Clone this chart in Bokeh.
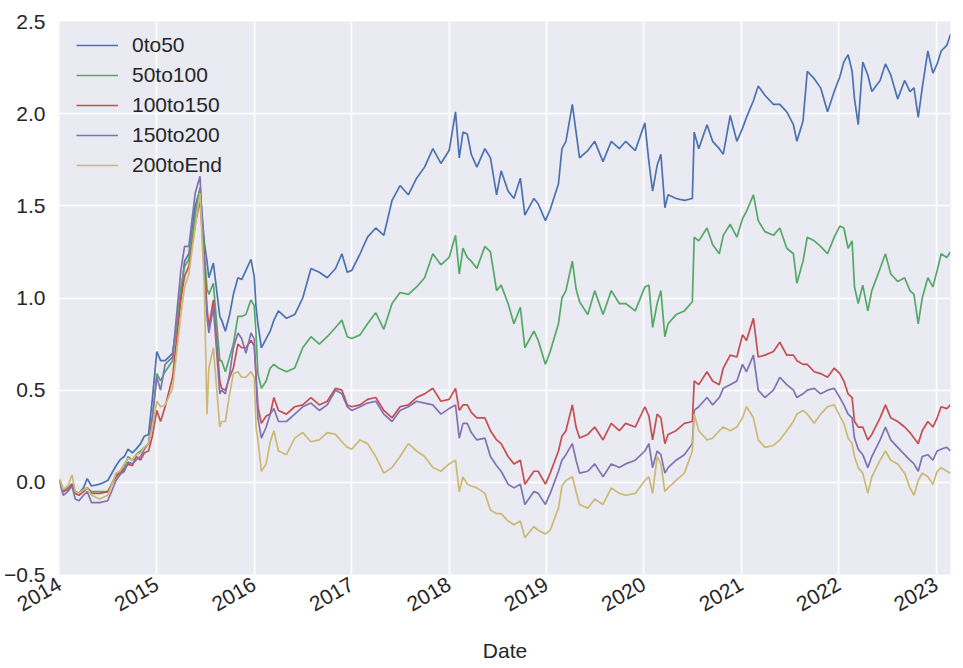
import math
import pandas as pd
from bokeh.plotting import figure
from bokeh.models import Range1d, FixedTicker, DatetimeTickFormatter
from bokeh.embed import file_html
from bokeh.resources import INLINE

dates = [
    "2014-01-02", "2014-01-15", "2014-02-01", "2014-02-17", "2014-03-01", "2014-03-15",
    "2014-04-01", "2014-04-15", "2014-05-01", "2014-06-01", "2014-07-01", "2014-08-01",
    "2014-08-15", "2014-09-01", "2014-09-15", "2014-10-01", "2014-10-15", "2014-11-01",
    "2014-11-15", "2014-12-01", "2014-12-15", "2015-01-01", "2015-01-15", "2015-02-01",
    "2015-03-01", "2015-04-01", "2015-04-15", "2015-05-01", "2015-05-25", "2015-06-12",
    "2015-06-28", "2015-07-08", "2015-07-15", "2015-08-01", "2015-08-25", "2015-09-01",
    "2015-09-15", "2015-10-01", "2015-10-15", "2015-11-01", "2015-11-15", "2015-12-01",
    "2015-12-20", "2016-01-01", "2016-01-08", "2016-01-15", "2016-01-28", "2016-02-15",
    "2016-03-01", "2016-03-15", "2016-04-01", "2016-05-01", "2016-06-01", "2016-07-01",
    "2016-08-01", "2016-09-01", "2016-10-01", "2016-11-01", "2016-11-25", "2016-12-15",
    "2017-01-01", "2017-02-01", "2017-03-01", "2017-04-01", "2017-05-01", "2017-06-01",
    "2017-07-01", "2017-08-01", "2017-09-01", "2017-10-01", "2017-11-01", "2017-12-01",
    "2018-01-01", "2018-01-25", "2018-02-08", "2018-02-22", "2018-03-10", "2018-03-25",
    "2018-04-15", "2018-05-15", "2018-06-05", "2018-06-28", "2018-07-15", "2018-08-10",
    "2018-09-01", "2018-09-25", "2018-10-12", "2018-11-15", "2018-12-01", "2018-12-28",
    "2019-01-15", "2019-02-15", "2019-02-28", "2019-03-15", "2019-04-08", "2019-04-22",
    "2019-05-05", "2019-06-05", "2019-07-01", "2019-08-01", "2019-09-01", "2019-10-01",
    "2019-10-25", "2019-11-30", "2020-01-05", "2020-01-20", "2020-02-03", "2020-02-20",
    "2020-03-05", "2020-03-20", "2020-04-01", "2020-05-01", "2020-06-01", "2020-07-01",
    "2020-07-08", "2020-07-25", "2020-08-25", "2020-09-15", "2020-10-10", "2020-10-25",
    "2020-11-20", "2020-12-15", "2021-01-05", "2021-01-20", "2021-02-15", "2021-03-05",
    "2021-03-30", "2021-05-01", "2021-05-25", "2021-06-20", "2021-07-15", "2021-07-28",
    "2021-08-20", "2021-09-05", "2021-10-01", "2021-10-25", "2021-11-20", "2021-12-15",
    "2022-01-05", "2022-01-20", "2022-02-05", "2022-02-20", "2022-03-01", "2022-03-15",
    "2022-04-01", "2022-04-20", "2022-05-05", "2022-06-05", "2022-06-25", "2022-07-15",
    "2022-08-10", "2022-09-05", "2022-09-25", "2022-10-10", "2022-10-26", "2022-11-10",
    "2022-12-01", "2022-12-20", "2023-01-05", "2023-01-20", "2023-02-10", "2023-02-24",
]

s_0to50 = [
    0.01, -0.04, -0.03, -0.01, -0.05, -0.06, -0.03, 0.02, -0.02, -0.01, 0.01, 0.09,
    0.12, 0.14, 0.18, 0.16, 0.18, 0.21, 0.25, 0.26, 0.45, 0.71, 0.66, 0.66,
    0.70, 1.02, 1.20, 1.24, 1.50, 1.59, 1.30, 1.20, 1.11, 1.19, 0.90, 0.88,
    0.82, 0.91, 1.02, 1.11, 1.10, 1.15, 1.21, 1.12, 0.95, 0.86, 0.73, 0.78,
    0.82, 0.88, 0.93, 0.89, 0.91, 1.00, 1.16, 1.14, 1.11, 1.16, 1.24, 1.14,
    1.15, 1.24, 1.33, 1.38, 1.34, 1.53, 1.61, 1.56, 1.65, 1.71, 1.81, 1.73,
    1.80, 2.01, 1.76, 1.90, 1.89, 1.78, 1.71, 1.81, 1.76, 1.56, 1.69, 1.58,
    1.54, 1.65, 1.45, 1.54, 1.51, 1.42, 1.48, 1.62, 1.81, 1.85, 2.05, 1.90,
    1.76, 1.80, 1.85, 1.74, 1.85, 1.81, 1.85, 1.80, 1.95, 1.74, 1.58, 1.72,
    1.78, 1.49, 1.56, 1.54, 1.53, 1.54, 1.90, 1.81, 1.94, 1.85, 1.81, 1.78,
    1.99, 1.85, 1.92, 1.98, 2.07, 2.15, 2.10, 2.05, 2.05, 2.01, 1.94, 1.85,
    1.96, 2.23, 2.19, 2.14, 2.01, 2.12, 2.20, 2.28, 2.32, 2.23, 2.08, 1.94,
    2.28, 2.21, 2.12, 2.18, 2.27, 2.21, 2.08, 2.18, 2.12, 2.14, 1.98, 2.14,
    2.34, 2.22, 2.27, 2.34, 2.37, 2.43,
]

s_50to100 = [
    0.01, -0.05, -0.03, -0.01, -0.05, -0.06, -0.04, -0.03, -0.05, -0.05, -0.05, 0.04,
    0.06, 0.08, 0.14, 0.12, 0.15, 0.17, 0.19, 0.21, 0.35, 0.59, 0.55, 0.60,
    0.66, 1.06, 1.17, 1.21, 1.45, 1.60, 1.25, 1.05, 1.02, 1.08, 0.66, 0.66,
    0.60, 0.68, 0.75, 0.90, 0.90, 0.91, 0.99, 0.96, 0.80, 0.59, 0.51, 0.55,
    0.62, 0.64, 0.62, 0.60, 0.62, 0.73, 0.79, 0.75, 0.79, 0.84, 0.88, 0.79,
    0.78, 0.80, 0.86, 0.92, 0.83, 0.97, 1.03, 1.02, 1.06, 1.11, 1.24, 1.18,
    1.22, 1.34, 1.13, 1.27, 1.22, 1.20, 1.16, 1.28, 1.25, 1.04, 1.07, 0.97,
    0.86, 0.95, 0.73, 0.82, 0.77, 0.64, 0.71, 0.86, 1.00, 1.04, 1.20, 1.05,
    0.98, 0.91, 1.04, 0.91, 1.04, 0.97, 0.97, 0.93, 1.06, 1.07, 0.84, 0.97,
    1.04, 0.79, 0.86, 0.91, 0.93, 0.98, 1.33, 1.31, 1.38, 1.29, 1.24, 1.34,
    1.40, 1.33, 1.43, 1.47, 1.56, 1.42, 1.36, 1.34, 1.38, 1.27, 1.24, 1.08,
    1.20, 1.33, 1.31, 1.28, 1.24, 1.33, 1.39, 1.38, 1.27, 1.31, 1.06, 0.97,
    1.07, 0.93, 1.04, 1.16, 1.24, 1.13, 1.09, 1.11, 1.04, 1.02, 0.86, 1.00,
    1.11, 1.06, 1.15, 1.24, 1.22, 1.25,
]

s_100to150 = [
    0.01, -0.05, -0.04, -0.01, -0.06, -0.07, -0.05, -0.03, -0.06, -0.06, -0.05, 0.03,
    0.05, 0.07, 0.10, 0.09, 0.14, 0.12, 0.16, 0.17, 0.25, 0.39, 0.33, 0.41,
    0.57, 0.99, 1.12, 1.17, 1.40, 1.53, 1.20, 0.95, 0.84, 0.99, 0.55, 0.51,
    0.50, 0.57, 0.62, 0.75, 0.73, 0.73, 0.77, 0.74, 0.58, 0.41, 0.32, 0.36,
    0.37, 0.46, 0.39, 0.37, 0.41, 0.42, 0.46, 0.42, 0.44, 0.51, 0.50, 0.42,
    0.41, 0.42, 0.45, 0.46, 0.39, 0.35, 0.41, 0.42, 0.46, 0.48, 0.51, 0.44,
    0.45, 0.51, 0.39, 0.42, 0.42, 0.38, 0.35, 0.35, 0.28, 0.23, 0.21, 0.14,
    0.10, 0.12, -0.01, 0.06, 0.06, -0.01, 0.05, 0.17, 0.25, 0.28, 0.42, 0.30,
    0.24, 0.26, 0.30, 0.23, 0.32, 0.28, 0.32, 0.30, 0.41, 0.36, 0.23, 0.37,
    0.35, 0.21, 0.26, 0.28, 0.32, 0.33, 0.55, 0.53, 0.60, 0.55, 0.53, 0.62,
    0.69, 0.68, 0.80, 0.77, 0.89, 0.68, 0.69, 0.71, 0.76, 0.69, 0.69, 0.66,
    0.64, 0.64, 0.60, 0.59, 0.57, 0.62, 0.59, 0.55, 0.48, 0.46, 0.33, 0.30,
    0.30, 0.23, 0.26, 0.35, 0.42, 0.35, 0.33, 0.30, 0.27, 0.24, 0.21, 0.28,
    0.33, 0.30, 0.35, 0.41, 0.40, 0.42,
]

s_150to200 = [
    0.00, -0.07, -0.05, -0.02, -0.09, -0.10, -0.07, -0.05, -0.11, -0.11, -0.10, 0.01,
    0.04, 0.06, 0.11, 0.10, 0.12, 0.14, 0.18, 0.21, 0.35, 0.57, 0.50, 0.64,
    0.68, 1.15, 1.28, 1.28, 1.57, 1.66, 1.15, 0.90, 0.81, 0.95, 0.48, 0.50,
    0.48, 0.59, 0.73, 0.81, 0.78, 0.70, 0.81, 0.78, 0.55, 0.35, 0.24, 0.30,
    0.37, 0.40, 0.33, 0.33, 0.37, 0.41, 0.43, 0.39, 0.42, 0.50, 0.48, 0.41,
    0.39, 0.41, 0.43, 0.44, 0.37, 0.33, 0.39, 0.41, 0.44, 0.43, 0.42, 0.37,
    0.40, 0.42, 0.24, 0.32, 0.32, 0.27, 0.23, 0.24, 0.14, 0.09, 0.06, -0.01,
    -0.03, -0.01, -0.12, -0.05, -0.06, -0.12, -0.06, 0.06, 0.12, 0.15, 0.21, 0.12,
    0.05, 0.06, 0.10, 0.03, 0.10, 0.08, 0.10, 0.12, 0.17, 0.21, 0.08, 0.17,
    0.15, 0.05, 0.08, 0.12, 0.15, 0.21, 0.39, 0.41, 0.46, 0.42, 0.46, 0.51,
    0.53, 0.55, 0.64, 0.60, 0.69, 0.50, 0.46, 0.50, 0.57, 0.53, 0.50, 0.46,
    0.48, 0.50, 0.51, 0.48, 0.50, 0.51, 0.46, 0.42, 0.37, 0.35, 0.24, 0.18,
    0.15, 0.08, 0.14, 0.23, 0.30, 0.23, 0.19, 0.15, 0.12, 0.10, 0.06, 0.14,
    0.15, 0.12, 0.17, 0.18, 0.19, 0.17,
]

s_200toEnd = [
    0.02, -0.04, -0.02, 0.04, -0.05, -0.06, -0.04, -0.03, -0.07, -0.09, -0.07, 0.05,
    0.06, 0.10, 0.13, 0.12, 0.15, 0.16, 0.19, 0.21, 0.30, 0.44, 0.41, 0.42,
    0.51, 0.91, 1.06, 1.13, 1.39, 1.57, 1.06, 0.37, 0.62, 0.73, 0.30, 0.33,
    0.33, 0.48, 0.59, 0.60, 0.57, 0.57, 0.60, 0.57, 0.30, 0.23, 0.06, 0.10,
    0.22, 0.28, 0.17, 0.15, 0.24, 0.27, 0.22, 0.23, 0.27, 0.26, 0.22, 0.19,
    0.18, 0.23, 0.21, 0.14, 0.05, 0.08, 0.14, 0.21, 0.17, 0.14, 0.08, 0.06,
    0.10, 0.12, -0.05, 0.03, -0.01, -0.02, -0.03, -0.06, -0.15, -0.17, -0.17, -0.21,
    -0.23, -0.21, -0.30, -0.24, -0.26, -0.28, -0.26, -0.14, -0.02, 0.01, 0.03, -0.05,
    -0.12, -0.14, -0.09, -0.12, -0.03, -0.06, -0.07, -0.06, 0.01, 0.03, -0.06, 0.14,
    0.10, -0.05, -0.03, 0.01, 0.05, 0.17, 0.37, 0.28, 0.23, 0.24, 0.28, 0.30,
    0.28, 0.30, 0.35, 0.41, 0.35, 0.23, 0.19, 0.20, 0.23, 0.28, 0.33, 0.37,
    0.39, 0.37, 0.32, 0.37, 0.41, 0.42, 0.36, 0.32, 0.24, 0.21, 0.14, 0.08,
    0.05, -0.06, 0.03, 0.12, 0.17, 0.12, 0.10, 0.05, -0.03, -0.07, 0.01, 0.05,
    0.03, -0.01, 0.06, 0.08, 0.06, 0.05,
]

series_names = ["0to50", "50to100", "100to150", "150to200", "200toEnd"]
series_values = [s_0to50, s_50to100, s_100to150, s_150to200, s_200toEnd]
series_colors = ["#4C72B0", "#55A868", "#C44E52", "#8172B2", "#CCB974"]
year_labels = list(range(2014, 2024))
y_ticks = [-0.5, 0.0, 0.5, 1.0, 1.5, 2.0, 2.5]
y_tick_labels = ["\u22120.5", "0.0", "0.5", "1.0", "1.5", "2.0", "2.5"]

x = pd.to_datetime(dates)

p = figure(
    x_axis_type="datetime",
    frame_width=891, frame_height=553,
    output_backend="svg", toolbar_location=None,
    x_range=Range1d(pd.Timestamp("2014-01-01"), pd.Timestamp(dates[-1])),
    y_range=Range1d(-0.5, 2.5),
    min_border_left=59, min_border_top=21, min_border_right=4, min_border_bottom=0,
)
p.background_fill_color = "#EAEAF2"
p.border_fill_color = "white"
p.outline_line_color = None

for name, vals, col in zip(series_names, series_values, series_colors):
    p.line(x, vals, line_color=col, line_width=1.7, legend_label=name)

year_ticks = [pd.Timestamp(f"{y}-01-01").timestamp() * 1000 for y in year_labels]
p.xaxis.ticker = FixedTicker(ticks=year_ticks, minor_ticks=[])
p.xaxis.formatter = DatetimeTickFormatter(years="%Y", months="%Y", days="%Y")
p.yaxis.ticker = FixedTicker(ticks=y_ticks, minor_ticks=[])
p.yaxis.major_label_overrides = dict(zip(y_ticks, y_tick_labels))

font = "Liberation Sans"
for ax in (p.xaxis[0], p.yaxis[0]):
    ax.axis_line_color = None
    ax.major_tick_line_color = None
    ax.minor_tick_line_color = None
    ax.major_tick_out = 0
    ax.major_tick_in = 0
    ax.major_label_text_font = font
    ax.major_label_text_font_size = "21px"
    ax.major_label_text_color = "#262626"
p.yaxis.major_label_standoff = 14
p.xaxis.major_label_standoff = 8
p.xaxis.major_label_orientation = math.pi / 6
p.xaxis.axis_label = "Date"
p.xaxis.axis_label_text_font = font
p.xaxis.axis_label_text_font_size = "21px"
p.xaxis.axis_label_text_font_style = "normal"
p.xaxis.axis_label_text_color = "#262626"
p.xaxis.axis_label_standoff = 18

p.grid.grid_line_color = "white"
p.grid.grid_line_width = 1.6

lg = p.legend[0]
lg.location = (17, 397)
lg.background_fill_alpha = 0
lg.border_line_alpha = 0
lg.padding = 0
lg.margin = 0
lg.label_text_font = font
lg.label_text_font_size = "21px"
lg.label_text_color = "#262626"
lg.glyph_width = 42
lg.glyph_height = 20
lg.label_height = 20
lg.label_standoff = 14
lg.spacing = 6

open("out.html", "w").write(file_html(p, INLINE))
